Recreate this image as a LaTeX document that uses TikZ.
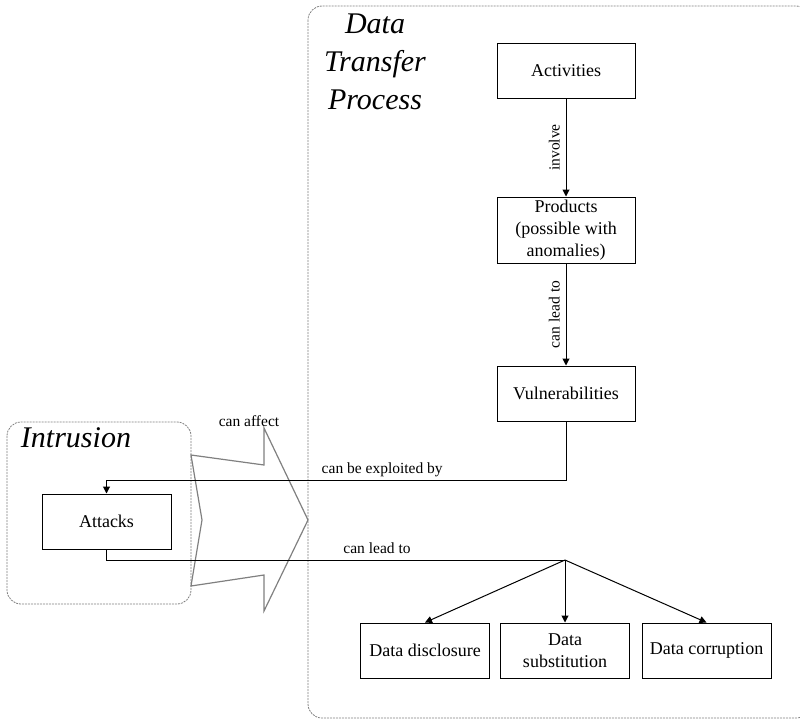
\documentclass[tikz,border=0pt]{standalone}
\usepackage{fontspec}
\setmainfont{Liberation Serif}
\usetikzlibrary{arrows.meta}

\tikzset{
    box/.style={draw, line width=1pt, minimum width=138pt, minimum height=55pt,
        align=center, inner sep=2pt, font=\fontsize{18}{22}\selectfont},
    smallbox/.style={box, minimum width=129pt},
    link/.style={line width=1pt, -{Triangle[length=7pt,width=7pt]}},
    lbl/.style={font=\fontsize{15.5}{18}\selectfont, inner sep=2pt, text depth=4pt},
    group/.style={draw=gray, line width=0.8pt, dash pattern=on 2pt off 1pt, rounded corners=14pt},
    title/.style={font=\fontsize{30}{38}\selectfont\itshape, align=center},
    bigarrow/.style={draw=gray, line width=1.2pt},
}

\begin{document}
\begin{tikzpicture}[x=1pt, y=-1pt]
\useasboundingbox (0,0) rectangle (800,720);
\clip (0,0) rectangle (800,720);

% groups
\draw[group] (308,6) rectangle (810,718);
\draw[group] (7,422) rectangle (191,604);
\node[title] (dtp) at (375,62) {Data\\Transfer\\Process};
\node[title, anchor=base] (intr) at (76,447) {Intrusion};

% intrusion affects the process
\draw[bigarrow] (191,455) -- (264,465) -- (264,428) -- (308,520) -- (264,611)
    -- (264,575) -- (191,586) -- (202,520) -- cycle;
\node[lbl, anchor=base] (affect) at (249,426) {can affect};

% process chain
\node[box] (act) at (566,70.5) {Activities};
\node[box, minimum height=66pt] (prod) at (566,230) {Products\\(possible with\\anomalies)};
\node[box] (vul) at (566,393.5) {Vulnerabilities};

% intrusion and outcomes
\node[smallbox] (att) at (106.5,521.5) {Attacks};
\coordinate (exploit) at (106.5,480);
\coordinate (split) at (565,560);
\node[smallbox] (discl) at (425,650.5) {Data disclosure};
\node[smallbox] (subst) at (565,650.5) {Data\\substitution};
\node[smallbox] (corr) at (706.5,650.5) {Data corruption};

\draw[link] (act) -- node[lbl, rotate=90, anchor=south] {involve} (prod);
\draw[link] (prod) -- node[lbl, rotate=90, anchor=south] {can lead to} (vul);
\draw[link] (vul.south) |- node[lbl, above, pos=0.7] {can be exploited by} (exploit) -- (att.north);
\draw[line width=1pt] (att.south) |- node[lbl, above, pos=0.795] {can lead to} (split);
\draw[link] (split) -- (discl.north);
\draw[link] (split) -- (subst.north);
\draw[link] (split) -- (corr.north);
\end{tikzpicture}
\end{document}
